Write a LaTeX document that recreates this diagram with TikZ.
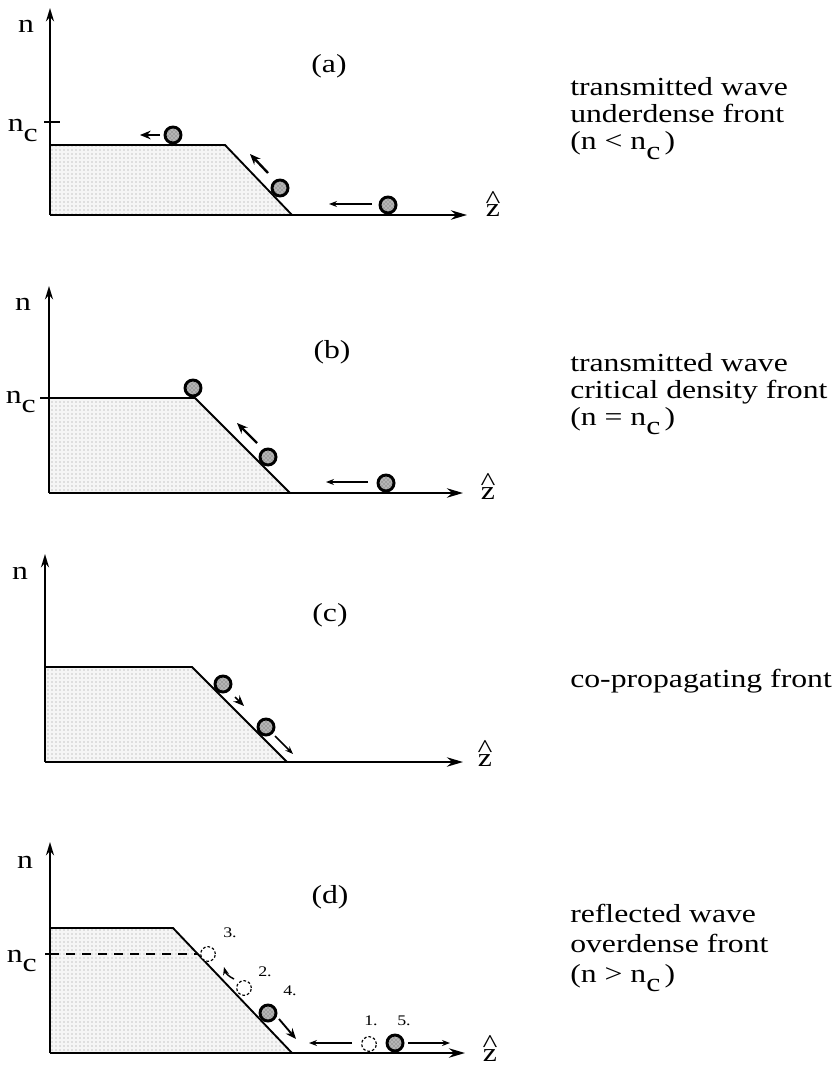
\documentclass[tikz,border=0pt]{standalone}
\usepackage{fontspec}
\setmainfont{Liberation Serif}[FakeStretch=1.22]
\usetikzlibrary{arrows.meta,patterns}
\newcommand{\lowc}{\raisebox{-0.38em}{c}}
\newcommand{\zhat}{\ooalign{z\cr\hidewidth\raisebox{0.32em}{\textasciicircum}\hidewidth\cr}}
\begin{document}
\begin{tikzpicture}[x=0.75pt,y=-0.75pt,
  every node/.style={inner sep=0pt, font=\fontsize{19.5}{22.5}\selectfont},
  region/.style={preaction={fill=gray!8}, pattern=dots, pattern color=gray!85},
  profile/.style={line width=1.4pt},
  yaxis/.style={line width=1.6pt, -{Stealth[length=10pt,width=6pt]}},
  xaxis/.style={line width=1.9pt, -{Stealth[length=12pt,width=7pt]}},
  tickmark/.style={line width=1.2pt},
  particle/.style={circle, draw, line width=2.2pt, minimum size=12pt,
    preaction={fill=gray!75}, pattern=crosshatch dots, pattern color=white},
  ghost/.style={circle, draw, line width=0.9pt, dash pattern=on 2pt off 1.5pt,
    minimum size=11pt, fill=white},
  move/.style={line width=0.9pt, -{Stealth[length=6pt,width=4.5pt]}},
  bigmove/.style={line width=1.8pt, -{Stealth[length=8pt,width=6.5pt]}},
  lbl/.style={anchor=base},
  num/.style={anchor=base, font=\fontsize{11}{13}\selectfont},
  desc/.style={anchor=base west, align=left}
]
\useasboundingbox (0,0) rectangle (839,1066);

% ---------------- panel (a)
\coordinate (aO) at (50,215);
\coordinate (aY) at (50,8);
\coordinate (aX) at (467,215);
\coordinate (aP) at (50,145);
\coordinate (aK) at (225,145);
\coordinate (aE) at (292,215);
\fill[region] (aO) -- (aP) -- (aK) -- (aE) -- cycle;
\draw[profile] (aP) -- (aK) -- (aE);
\draw[yaxis] (aO) -- (aY);
\draw[xaxis] (aO) -- (aX);
\coordinate (aT1) at (44,122);
\coordinate (aT2) at (60,122);
\draw[tickmark] (aT1) -- (aT2);
\node[lbl] (an) at (26,33) {n};
\node[anchor=base east] (anc) at (38,132) {n\lowc};
\node[lbl] (az) at (493,217) {\zhat};
\node (alab) at (329,66) {(a)};
\node[particle] (ap1) at (173,135) {};
\node[particle] (ap2) at (280,188) {};
\node[particle] (ap3) at (388,205) {};
\coordinate (aa1s) at (160,135); \coordinate (aa1e) at (140,135);
\coordinate (aa2s) at (268,173); \coordinate (aa2e) at (250,154);
\coordinate (aa3s) at (372,204); \coordinate (aa3e) at (329,204);
\draw[bigmove, line width=1.5pt] (aa1s) -- (aa1e);
\draw[bigmove] (aa2s) -- (aa2e);
\draw[move] (aa3s) -- (aa3e);
\node[desc, font=\fontsize{19.5}{20.25}\selectfont] (adesc) at (570,150)
  {transmitted wave\\underdense front\\(n {<} n\lowc\,)};

% ---------------- panel (b)
\coordinate (bO) at (49,493);
\coordinate (bY) at (49,286);
\coordinate (bX) at (463,493);
\coordinate (bP) at (49,398);
\coordinate (bK) at (195,398);
\coordinate (bE) at (290,493);
\fill[region] (bO) -- (bP) -- (bK) -- (bE) -- cycle;
\draw[profile] (bP) -- (bK) -- (bE);
\draw[yaxis] (bO) -- (bY);
\draw[xaxis] (bO) -- (bX);
\coordinate (bT1) at (40,398);
\coordinate (bT2) at (49,398);
\draw[tickmark] (bT1) -- (bT2);
\node[lbl] (bn) at (23,310) {n};
\node[anchor=base east] (bnc) at (36,403) {n\lowc};
\node[lbl] (bz) at (488,499) {\zhat};
\node (blab) at (332,352) {(b)};
\node[particle] (bp1) at (193,388) {};
\node[particle] (bp2) at (268,457) {};
\node[particle] (bp3) at (386,483) {};
\coordinate (ba2s) at (257,443); \coordinate (ba2e) at (237,423);
\coordinate (ba3s) at (368,482); \coordinate (ba3e) at (326,482);
\draw[bigmove] (ba2s) -- (ba2e);
\draw[move] (ba3s) -- (ba3e);
\node[desc, font=\fontsize{19.5}{20}\selectfont] (bdesc) at (570,425)
  {transmitted wave\\critical density front\\(n = n\lowc\,)};

% ---------------- panel (c)
\coordinate (cO) at (45,762);
\coordinate (cY) at (45,554);
\coordinate (cX) at (463,762);
\coordinate (cP) at (45,667);
\coordinate (cK) at (192,667);
\coordinate (cE) at (287,762);
\fill[region] (cO) -- (cP) -- (cK) -- (cE) -- cycle;
\draw[profile] (cP) -- (cK) -- (cE);
\draw[yaxis] (cO) -- (cY);
\draw[xaxis] (cO) -- (cX);
\node[lbl] (cn) at (20,579) {n};
\node[lbl] (cz) at (485,766) {\zhat};
\node (clab) at (330,615) {(c)};
\node[particle] (cp1) at (223,684) {};
\node[particle] (cp2) at (266,727) {};
\coordinate (ca1s) at (235,697); \coordinate (ca1e) at (244,706);
\coordinate (ca2s) at (275,736); \coordinate (ca2e) at (293,754);
\draw[bigmove, line width=1.2pt] (ca1s) -- (ca1e);
\draw[move, line width=1.2pt] (ca2s) -- (ca2e);
\node[desc] (cdesc) at (570,687) {co-propagating front};

% ---------------- panel (d)
\coordinate (dO) at (50,1053);
\coordinate (dY) at (50,842);
\coordinate (dX) at (465,1053);
\coordinate (dP) at (50,928);
\coordinate (dK) at (173,928);
\coordinate (dE) at (292,1053);
\coordinate (dC) at (198,954);
\coordinate (dL) at (50,954);
\fill[region] (dO) -- (dP) -- (dK) -- (dE) -- cycle;
\draw[profile] (dP) -- (dK) -- (dE);
\draw[line width=1pt, dash pattern=on 7pt off 5pt] (dL) -- (dC);
\draw[yaxis] (dO) -- (dY);
\draw[xaxis] (dO) -- (dX);
\coordinate (dT1) at (45,954);
\draw[tickmark] (dT1) -- (dL);
\node[lbl] (dn) at (25,868) {n};
\node[anchor=base east] (dnc) at (37,962) {n\lowc};
\node[lbl] (dz) at (490,1061) {\zhat};
\node (dlab) at (330,897) {(d)};
\node[ghost] (dg3) at (208,954) {};
\node[ghost] (dg2) at (244,988) {};
\node[particle] (dp4) at (268,1013) {};
\node[ghost] (dg1) at (369,1044) {};
\node[particle] (dp5) at (395,1043) {};
\node[num] (dl3) at (230,937) {3.};
\node[num] (dl2) at (265,976) {2.};
\node[num] (dl4) at (290,995) {4.};
\node[num] (dl1) at (371,1025) {1.};
\node[num] (dl5) at (404,1025) {5.};
\coordinate (da23s) at (234,979); \coordinate (da23e) at (224,967);
\coordinate (da4s) at (279,1019); \coordinate (da4e) at (296,1039);
\coordinate (da1s) at (352,1043); \coordinate (da1e) at (309,1043);
\coordinate (da5s) at (408,1043); \coordinate (da5e) at (450,1043);
\draw[move, line width=1.1pt] (da23s) to[bend left=25] (da23e);
\draw[bigmove, line width=1.4pt] (da4s) -- (da4e);
\draw[move] (da1s) -- (da1e);
\draw[move] (da5s) -- (da5e);
\node[desc] (ddesc) at (570,982)
  {reflected wave\\overdense front\\(n {>} n\lowc\,)};
\end{tikzpicture}
\end{document}
